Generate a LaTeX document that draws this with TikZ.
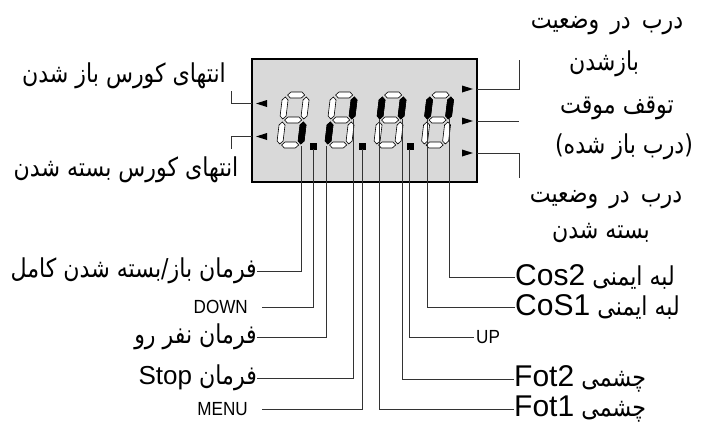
\documentclass[tikz,border=0pt]{standalone}
\usepackage{fontspec}
\setmainfont{Liberation Sans}
\newfontfamily\arabicfont[Script=Arabic]{DejaVu Sans}
\TeXXeTstate=1
\usetikzlibrary{positioning}
\tikzset{
  lcdframe/.style={draw=black, line width=2.6pt, fill=black!15},
  segoff/.style={draw=black, line width=0.6pt, fill=white},
  segon/.style={draw=black, line width=0.6pt, fill=black},
  wire/.style={draw=black!80, line width=0.9pt},
  fatext/.style={font=\fontsize{26}{30}\selectfont, inner sep=0pt},
  keytext/.style={font=\fontsize{19}{20}\selectfont, inner sep=0pt}
}
\newcommand{\fa}[1]{\scalebox{0.85}[1]{\arabicfont\beginR #1\endR}}
\newcommand{\faw}[1]{\scalebox{0.85}[1]{\arabicfont\spaceskip=0.5em\beginR #1\endR}}
\newcommand{\lat}[2][30]{{\fontsize{#1}{32}\selectfont #2}}
\newcommand{\keyname}[1]{\scalebox{0.9}[1]{#1}}
\newcommand{\hseg}[2]{\path[#1] (5,#2) -- (8,#2-3) -- (19,#2-3) -- (22,#2) -- (19,#2+3) -- (8,#2+3) -- cycle;}
\newcommand{\vseg}[3]{\path[#1] (#2,#3) -- (#2+3,#3+3) -- (#2+3,#3+19) -- (#2,#3+22) -- (#2-3,#3+19) -- (#2-3,#3+3) -- cycle;}
% one digit, top-left corner at #1,#2, #3 = lit segments
\newcommand{\lcddigit}[3]{%
  \begin{scope}[shift={(#1,#2)}, xslant=0.12]
    \foreach \yy in {3,28,53} {\hseg{segoff}{\yy}}
    \foreach \xx/\yy in {3/5,24/5,3/30,24/30} {\vseg{segoff}{\xx}{\yy}}
    #3
  \end{scope}}

\begin{document}
\begin{tikzpicture}[x=1pt, y=-1pt]
  \useasboundingbox (0,0) rectangle (703,423);

  % display
  \draw[lcdframe] (252,59) rectangle (477,182);
  \foreach \yy in {103.5,136.5}
    \fill (256,\yy) -- (267,\yy-3.5) -- (267,\yy+3.5) -- cycle;
  \foreach \yy in {89,121,153}
    \fill (473,\yy) -- (462,\yy-3.5) -- (462,\yy+3.5) -- cycle;
  \lcddigit{283}{92}{\vseg{segon}{24}{30}}
  \lcddigit{331}{92}{\vseg{segon}{24}{5}\vseg{segon}{3}{30}}
  \lcddigit{380}{92}{\vseg{segon}{3}{5}\vseg{segon}{24}{5}}
  \lcddigit{427.5}{92}{\vseg{segon}{3}{5}\vseg{segon}{24}{5}}
  \foreach \xx in {313,362,410}
    \fill (\xx-3.5,142.5) rectangle (\xx+3.5,149.5);

  % wire ends on the display
  \coordinate (c1) at (301,146);
  \coordinate (dp1) at (313,149);
  \coordinate (e2) at (326,146);
  \coordinate (b2) at (353,119);
  \coordinate (dp2) at (362,149);
  \coordinate (f3) at (379,119);
  \coordinate (b3) at (402,119);
  \coordinate (dp3) at (409,149);
  \coordinate (f4) at (427,119);
  \coordinate (b4) at (449,119);
  \coordinate (aL1) at (252,103.5);
  \coordinate (aL2) at (252,136.5);
  \coordinate (aR1) at (477,89);
  \coordinate (aR2) at (477,121);
  \coordinate (aR3) at (477,153);
  \coordinate (tL1) at (231,91);
  \coordinate (tL2) at (231,149);
  \coordinate (tR1) at (519,60);
  \coordinate (tR2) at (519,121);
  \coordinate (tR3) at (519,178);

  % side labels
  \node[fatext] (limOpen) at (124,76) {\fa{انتهای کورس باز شدن}};
  \node[fatext] (limClose) at (126,170) {\fa{انتهای کورس بسته شدن}};
  \node[fatext] (gateOpenA) at (607,26) {\faw{درب در وضعیت}};
  \node[fatext] (gateOpenB) at (604,64) {\fa{بازشدن}};
  \node[fatext] (pauseA) at (617,108) {\fa{توقف موقت}};
  \node[fatext] (pauseB) at (624,147) {\fa{(درب باز شده)}};
  \node[fatext] (gateCloseA) at (606,200) {\faw{درب در وضعیت}};
  \node[fatext] (gateCloseB) at (601,233) {\fa{بسته شدن}};

  \draw[wire] (aL1) -| (tL1);
  \draw[wire] (aL2) -| (tL2);
  \draw[wire] (aR1) -| (tR1);
  \draw[wire] (aR2) -- (tR2);
  \draw[wire] (aR3) -| (tR3);

  % bottom labels, left
  \node[fatext, anchor=east] (cmdFull) at (257,271) {\fa{فرمان باز/بسته شدن کامل}};
  \node[keytext, anchor=east] (keyDown) at (248,307) {\keyname{DOWN}};
  \node[fatext, anchor=east] (cmdPed) at (257,337) {\fa{فرمان نفر رو}};
  \node[fatext, anchor=east] (cmdStop) at (257,378) {\lat[26]{Stop} \fa{فرمان}};
  \node[keytext, anchor=east] (keyMenu) at (248,409) {\keyname{MENU}};

  % bottom labels, right
  \node[fatext, anchor=west] (cos2) at (515,277) {\lat{Cos2} \fa{لبه ایمنی}};
  \node[fatext, anchor=west] (cos1) at (515,307) {\lat{CoS1} \fa{لبه ایمنی}};
  \node[keytext, anchor=west] (keyUp) at (476,337) {\keyname{UP}};
  \node[fatext, anchor=west] (fot2) at (514,379) {\lat{Fot2} \fa{چشمی}};
  \node[fatext, anchor=west] (fot1) at (514,409) {\lat{Fot1} \fa{چشمی}};

  \draw[wire] (c1) |- (cmdFull.east);
  \draw[wire] (dp1) |- ([xshift=14]keyDown.east);
  \draw[wire] (e2) |- (cmdPed.east);
  \draw[wire] (b2) |- (cmdStop.east);
  \draw[wire] (dp2) |- ([xshift=14]keyMenu.east);
  \draw[wire] (f3) |- (fot1.west);
  \draw[wire] (b3) |- (fot2.west);
  \draw[wire] (dp3) |- ([xshift=-2]keyUp.west);
  \draw[wire] (f4) |- (cos1.west);
  \draw[wire] (b4) |- (cos2.west);
\end{tikzpicture}
\end{document}
